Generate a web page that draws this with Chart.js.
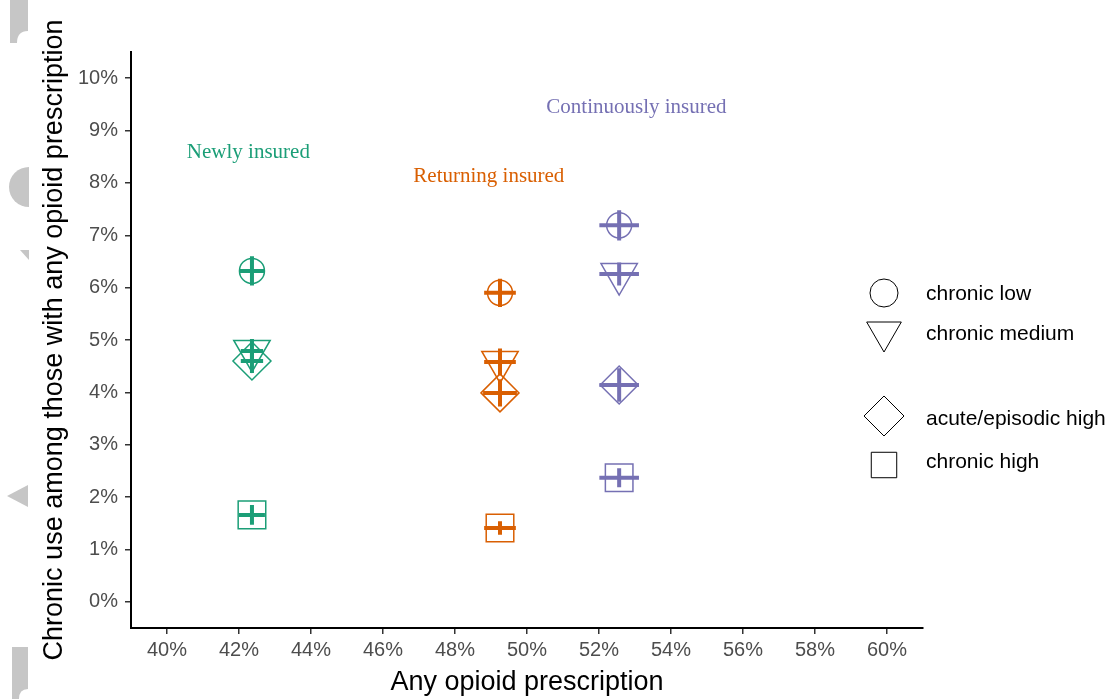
<!DOCTYPE html>
<html>
<head>
<meta charset="utf-8">
<script src="https://cdn.jsdelivr.net/npm/chart.js@4.4.1/dist/chart.umd.min.js"></script>
<style>
html, body { margin:0; padding:0; background:#fff; }
#wrap { width:1114px; height:699px; }
</style>
</head>
<body>
<div id="wrap"><canvas id="grafico" width="1114" height="699"></canvas></div>
<script>
// DATOS
const grupos = ['Newly insured', 'Returning insured', 'Continuously insured'];
const coloresGrupo = ['#1b9e77', '#d95f02', '#7570b3'];
const categorias = ['chronic low', 'chronic medium', 'acute/episodic high', 'chronic high'];

// x: any opioid prescription (%), one value per group
const anyOpioid = [42.36, 49.25, 52.56];

// y: chronic use among those with any opioid prescription (%)
const newlyY      = [6.32, 4.79, 4.60, 1.66];
const returningY  = [5.90, 4.58, 3.99, 1.41];
const continuousY = [7.19, 6.26, 4.14, 2.37];

// half widths of the intervals
const newlyXErr      = [0.36, 0.31, 0.31, 0.36];
const returningXErr  = [0.44, 0.44, 0.47, 0.44];
const continuousXErr = [0.55, 0.55, 0.55, 0.55];
const newlyYErr      = [0.28, 0.23, 0.23, 0.19];
const returningYErr  = [0.27, 0.26, 0.26, 0.13];
const continuousYErr = [0.29, 0.22, 0.32, 0.18];

const xTicks = [40, 42, 44, 46, 48, 50, 52, 54, 56, 58, 60];
const yTicks = [0, 1, 2, 3, 4, 5, 6, 7, 8, 9, 10];

// group labels (data coordinates)
const etiquetaX = [42.26, 48.94, 53.04];
const etiquetaY = [8.58, 8.13, 9.44];

// ESTILOS
const formas   = ['circle', 'triangle', 'rectRot', 'rect'];
const rotacion = [0, 180, 0, 0];
const radios   = [12.5, 21, 19, 19.5];
const radiosLeyenda = [14, 20, 20, 18];
const leyendaY = [293, 332, 416, 465];
const leyendaTextoY = [294, 334, 419, 462];

const valoresY = [newlyY, returningY, continuousY];
const erroresX = [newlyXErr, returningXErr, continuousXErr];
const erroresY = [newlyYErr, returningYErr, continuousYErr];

const datasets = grupos.map((g, i) => ({
    label: g,
    data: valoresY[i].map(v => ({x: anyOpioid[i], y: v})),
    borderColor: coloresGrupo[i],
    backgroundColor: 'rgba(0,0,0,0)',
    borderWidth: 1.5,
    pointStyle: formas,
    rotation: rotacion,
    pointRadius: radios,
    pointHoverRadius: radios
}));

// fondo y marcas grises del borde izquierdo
const fondo = {
    id: 'fondo',
    beforeDraw(chart){
        const ctx = chart.ctx;
        ctx.save();
        ctx.fillStyle = '#fff';
        ctx.fillRect(0, 0, chart.width, chart.height);
        ctx.fillStyle = '#c6c6c6';
        ctx.beginPath();
        ctx.moveTo(10, 0); ctx.lineTo(28, 0); ctx.lineTo(28, 31);
        ctx.quadraticCurveTo(17, 31, 17, 43); ctx.lineTo(10, 43); ctx.closePath();
        ctx.fill();
        ctx.beginPath();
        ctx.arc(29, 187, 20, Math.PI / 2, Math.PI * 1.5); ctx.closePath();
        ctx.fill();
        ctx.beginPath();
        ctx.moveTo(20, 250); ctx.lineTo(29, 250); ctx.lineTo(29, 260); ctx.closePath();
        ctx.fill();
        ctx.beginPath();
        ctx.moveTo(7, 496); ctx.lineTo(28, 485); ctx.lineTo(28, 507); ctx.closePath();
        ctx.fill();
        ctx.beginPath();
        ctx.moveTo(12, 647); ctx.lineTo(28, 647); ctx.lineTo(28, 689);
        ctx.quadraticCurveTo(19, 689, 19, 699); ctx.lineTo(12, 699); ctx.closePath();
        ctx.fill();
        ctx.restore();
    }
};

// barras de error
const barrasError = {
    id: 'barrasError',
    afterDatasetsDraw(chart){
        const ctx = chart.ctx;
        const sx = chart.scales.x, sy = chart.scales.y;
        ctx.save();
        ctx.lineWidth = 4;
        ctx.lineCap = 'butt';
        grupos.forEach((g, i) => {
            ctx.strokeStyle = coloresGrupo[i];
            valoresY[i].forEach((v, j) => {
                const x = anyOpioid[i];
                ctx.beginPath();
                ctx.moveTo(sx.getPixelForValue(x - erroresX[i][j]), sy.getPixelForValue(v));
                ctx.lineTo(sx.getPixelForValue(x + erroresX[i][j]), sy.getPixelForValue(v));
                ctx.moveTo(sx.getPixelForValue(x), sy.getPixelForValue(v - erroresY[i][j]));
                ctx.lineTo(sx.getPixelForValue(x), sy.getPixelForValue(v + erroresY[i][j]));
                ctx.stroke();
            });
        });
        ctx.restore();
    }
};

// etiquetas de grupo y leyenda
const textos = {
    id: 'textos',
    afterDraw(chart){
        const ctx = chart.ctx;
        const sx = chart.scales.x, sy = chart.scales.y;
        ctx.save();
        ctx.font = '21px "Liberation Serif", "Times New Roman", serif';
        ctx.textAlign = 'center';
        ctx.textBaseline = 'middle';
        grupos.forEach((g, i) => {
            ctx.fillStyle = coloresGrupo[i];
            ctx.fillText(g, sx.getPixelForValue(etiquetaX[i]), sy.getPixelForValue(etiquetaY[i]));
        });

        ctx.strokeStyle = '#000';
        ctx.fillStyle = 'rgba(0,0,0,0)';
        categorias.forEach((c, j) => {
            Chart.helpers.drawPoint(ctx, {
                pointStyle: formas[j],
                rotation: rotacion[j],
                radius: radiosLeyenda[j],
                borderWidth: 1.2
            }, 884, leyendaY[j]);
        });
        ctx.fillStyle = '#000';
        ctx.font = '21px "Liberation Sans", Arial, sans-serif';
        ctx.textAlign = 'left';
        categorias.forEach((c, j) => {
            ctx.fillText(c, 926, leyendaTextoY[j]);
        });
        ctx.restore();
    }
};

const fuenteTicks = { family: '"Liberation Sans", Arial, sans-serif', size: 20 };
const fuenteTitulo = { family: '"Liberation Sans", Arial, sans-serif', size: 27, lineHeight: 1 };

new Chart(document.getElementById('grafico'), {
    type: 'scatter',
    data: { datasets: datasets },
    options: {
        responsive: false,
        animation: false,
        devicePixelRatio: 1,
        layout: { padding: { top: 52, right: 191, left: 0, bottom: 0 } },
        plugins: {
            legend: { display: false },
            tooltip: { enabled: false }
        },
        scales: {
            x: {
                type: 'linear',
                min: 39,
                max: 61,
                afterFit: s => { s.height = 71; },
                afterBuildTicks: s => { s.ticks = xTicks.map(v => ({value: v})); },
                border: { display: true, color: '#000', width: 2 },
                grid: { drawOnChartArea: false, drawTicks: true, tickLength: 6, color: '#333', lineWidth: 1.5 },
                ticks: {
                    font: fuenteTicks,
                    color: '#4d4d4d',
                    padding: 4,
                    maxRotation: 0,
                    callback: v => v + '%'
                },
                title: {
                    display: true,
                    text: 'Any opioid prescription',
                    color: '#000',
                    font: fuenteTitulo,
                    padding: { top: 0, bottom: 3 }
                }
            },
            y: {
                type: 'linear',
                min: -0.5,
                max: 10.5,
                afterFit: s => { s.width = 131; },
                afterBuildTicks: s => { s.ticks = yTicks.map(v => ({value: v})); },
                border: { display: true, color: '#000', width: 2 },
                grid: { drawOnChartArea: false, drawTicks: true, tickLength: 6, color: '#333', lineWidth: 1.5 },
                ticks: {
                    font: fuenteTicks,
                    color: '#4d4d4d',
                    padding: 7,
                    callback: v => v + '%'
                },
                title: {
                    display: true,
                    text: 'Chronic use among those with any opioid prescription',
                    color: '#000',
                    font: fuenteTitulo,
                    padding: { top: 41, bottom: 0 }
                }
            }
        }
    },
    plugins: [fondo, barrasError, textos]
});
</script>
</body>
</html>
